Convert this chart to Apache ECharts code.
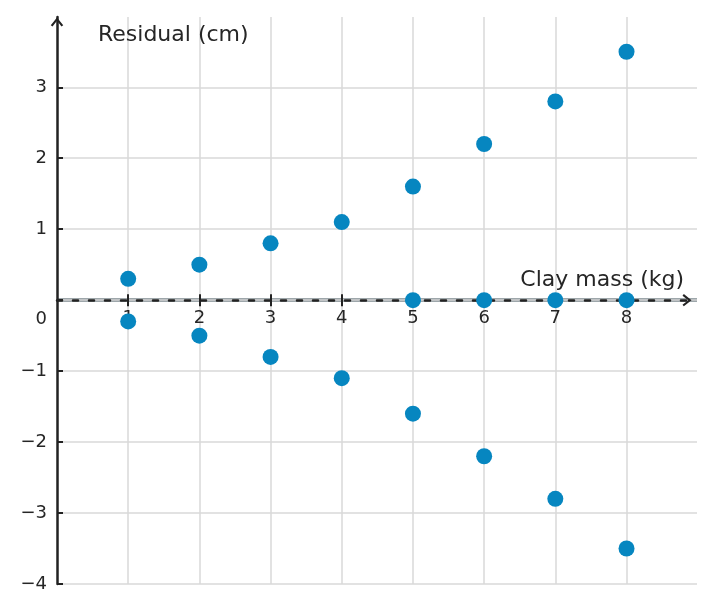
<!DOCTYPE html>
<html><head><meta charset="utf-8">
<script src="https://cdn.jsdelivr.net/npm/echarts@6/dist/echarts.min.js"></script>
<style>html,body{margin:0;padding:0;background:#fff}#c{width:714px;height:613px}</style>
</head><body><div id="c"></div>
<script>
const clayMass = [1, 2, 3, 4, 5, 6, 7, 8];
const residualUpper = [0.3, 0.5, 0.8, 1.1, 1.6, 2.2, 2.8, 3.5];
const residualZero = [null, null, null, null, 0, 0, 0, 0];
const residualLower = [-0.3, -0.5, -0.8, -1.1, -1.6, -2.2, -2.8, -3.5];
const xTicks = [1, 2, 3, 4, 5, 6, 7, 8];
const yTicks = [-4, -3, -2, -1, 0, 1, 2, 3];
const xName = 'Clay mass (kg)';
const yName = 'Residual (cm)';

const points = [];
clayMass.forEach(function (m, i) {
  [residualUpper[i], residualZero[i], residualLower[i]].forEach(function (v) {
    if (v !== null) points.push([m, v]);
  });
});

const FONT = 'DejaVu Sans';
const TXT = '#262626';
const chevron = 'path://M0,8L6.5,0L13,8L11.2,9.4L6.5,3.4L1.8,9.4Z';
const Y_MIN = -4, Y_MAX = 3.99;

const chart = echarts.init(document.getElementById('c'));
function build(xOffset) {
  return {
    animation: false,
    grid: { left: 57, right: 17, top: 17, bottom: 29 },
    xAxis: [{
      type: 'value', min: 0, max: 8.99, interval: 1, z: 2, position: 'bottom', offset: xOffset,
      name: xName, nameLocation: 'end', nameGap: -13,
      nameTextStyle: { fontFamily: FONT, fontSize: 22, color: TXT, align: 'right', verticalAlign: 'bottom', padding: [0, 0, 9, 0] },
      axisLine: { onZero: false, symbol: ['none', chevron], symbolSize: [13, 9], symbolOffset: [0, -10],
        lineStyle: { color: '#222', width: 2.5, type: [5, 11] } },
      axisTick: { show: true, inside: false, length: 6, customValues: xTicks, lineStyle: { color: '#222', width: 2 } },
      axisLabel: { margin: 9, fontFamily: FONT, fontSize: 18, color: TXT, customValues: xTicks },
      splitLine: { show: true, lineStyle: { color: '#d9d9d9', width: 1.5 } }
    }, {
      type: 'value', min: 0, max: 8.99, interval: 1, z: 2, position: 'bottom', offset: xOffset,
      axisLine: { onZero: false, lineStyle: { color: 'rgba(0,0,0,0)' } },
      axisTick: { show: true, inside: true, length: 6, customValues: xTicks, lineStyle: { color: '#222', width: 2 } },
      axisLabel: { show: false },
      splitLine: { show: false }
    }],
    yAxis: {
      type: 'value', min: Y_MIN, max: Y_MAX, interval: 1, z: 2,
      name: yName, nameLocation: 'end', nameGap: -18,
      nameTextStyle: { fontFamily: FONT, fontSize: 22, color: TXT, align: 'left', verticalAlign: 'middle', padding: [0, 0, 0, 41] },
      axisLine: { show: true, onZero: false, symbol: ['none', chevron], symbolSize: [13, 9], symbolOffset: [0, -5],
        lineStyle: { color: '#222', width: 2.5 } },
      axisTick: { show: true, inside: true, length: 6, customValues: yTicks, lineStyle: { color: '#222', width: 2 } },
      axisLabel: { margin: 10, fontFamily: FONT, fontSize: 18, color: TXT, customValues: yTicks,
        formatter: function (v) {
          if (v === 0) return '{z|0}';
          return v < 0 ? '\u2212' + Math.abs(v) : String(v);
        },
        rich: { z: { fontFamily: FONT, fontSize: 18, color: TXT, padding: [38, 0, 0, 0] } }
      },
      splitLine: { show: true, lineStyle: { color: '#d9d9d9', width: 1.5 } }
    },
    series: [{
      type: 'line', data: [], z: 1, silent: true,
      markLine: {
        z: 1, symbol: ['none', 'none'], silent: true, label: { show: false },
        lineStyle: { color: '#7d888e', width: 3.5, type: 'solid' },
        data: [{ yAxis: 0 }]
      }
    }, {
      type: 'scatter', z: 3, symbolSize: 16,
      itemStyle: { color: '#0686c0', opacity: 1 },
      data: points
    }]
  };
}
chart.setOption(build(0));
const yZero = chart.convertToPixel({ yAxisIndex: 0 }, 0);
const yBottom = chart.convertToPixel({ yAxisIndex: 0 }, Y_MIN);
chart.setOption(build(yZero - yBottom));
</script></body></html>
